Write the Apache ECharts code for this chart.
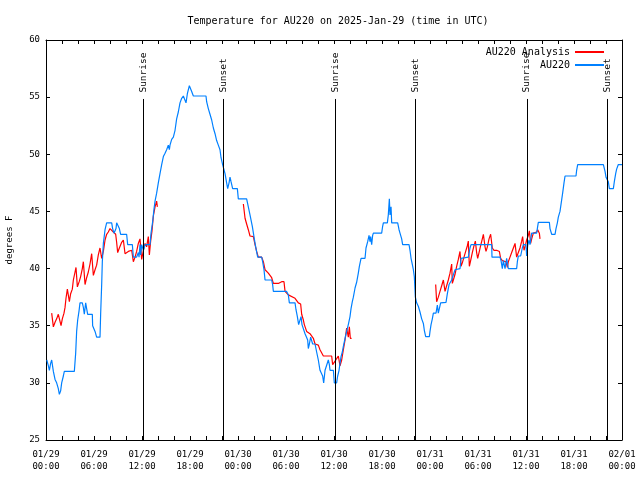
<!DOCTYPE html>
<html><head><meta charset="utf-8">
<script src="https://cdn.jsdelivr.net/npm/echarts@6/dist/echarts.min.js"></script>
<style>html,body{margin:0;padding:0;background:#fff}#c{width:640px;height:480px}</style>
</head><body><div id="c"></div>
<script>
// hours since 2025-01-29 00:00 UTC
const xTickLabels = ['01/29\n00:00','01/29\n06:00','01/29\n12:00','01/29\n18:00','01/30\n00:00','01/30\n06:00','01/30\n12:00','01/30\n18:00','01/31\n00:00','01/31\n06:00','01/31\n12:00','01/31\n18:00','02/01\n00:00'];
const sunTimes = [12.15, 22.17, 36.15, 46.17, 60.12, 70.18];
const sunLabels = ['Sunrise','Sunset','Sunrise','Sunset','Sunrise','Sunset'];

const obsTemp = [[0.1,32],[0.29,31.5],[0.42,31.1],[0.58,31.7],[0.71,32],[0.92,31],[1.13,30.3],[1.33,30],[1.54,29.5],[1.67,29],[1.83,29.3],[1.96,30],[2.17,30.6],[2.29,31],[3.54,31],[3.71,32.6],[3.83,34.5],[3.96,35.5],[4.13,36.3],[4.25,37],[4.54,37],[4.67,36.6],[4.79,36],[4.96,37],[5.08,36.5],[5.21,36],[5.79,36],[5.83,35],[6.04,35],[6.13,34.5],[6.33,34],[6.75,34],[6.83,36],[6.96,38.6],[7.04,40.6],[7.17,42.2],[7.38,43.4],[7.58,44],[8.21,44],[8.33,43.5],[8.5,43.1],[8.75,43.5],[8.83,44],[9.04,44],[9.17,43.5],[9.33,43],[10.08,43],[10.21,42.1],[10.79,42.1],[10.92,41],[11.33,41],[11.54,41.4],[11.63,41],[11.75,42.1],[11.83,41.2],[11.96,42.1],[12.17,41.6],[12.38,42.1],[13.0,42.1],[13.13,43.1],[13.33,44.1],[13.5,45.2],[13.63,45.9],[13.83,46.6],[14.04,47.5],[14.25,48.3],[14.46,49.1],[14.67,49.8],[14.88,50.1],[15.08,50.4],[15.29,50.8],[15.42,50.4],[15.5,50.8],[15.71,51.3],[15.92,51.5],[16.13,52.1],[16.33,53.1],[16.54,53.7],[16.75,54.5],[16.96,54.9],[17.17,55.1],[17.38,55.1],[17.5,54.5],[17.67,55.3],[17.79,55.3],[17.92,56],[18.08,56],[18.21,55.5],[18.42,55.1],[20.0,55.1],[20.08,54.6],[20.29,54],[20.5,53.5],[20.71,53],[20.92,52.3],[21.13,51.8],[21.33,51.2],[21.54,50.8],[21.75,50.4],[21.88,49.7],[22.08,49.1],[22.38,48.3],[22.58,47.5],[22.71,47],[22.88,47.5],[23.0,48],[23.13,47.6],[23.33,47],[23.92,47],[24.04,46.1],[25.08,46.1],[25.29,45.4],[25.5,44.7],[25.79,43.7],[26.04,42.6],[26.21,41.9],[26.46,41],[26.96,41],[27.08,40.6],[27.25,39.9],[27.38,39],[28.21,39],[28.33,38.6],[28.42,38],[30.08,38],[30.29,37.7],[30.42,37],[31.13,37],[31.25,36.4],[31.42,35.8],[31.58,35.1],[31.75,35.1],[31.88,35.8],[32.0,35.1],[32.17,35.1],[32.38,34.3],[32.58,34.3],[32.71,33.75],[32.79,33],[32.92,33.4],[33.08,34],[33.21,34],[33.33,33.4],[33.63,33.4],[33.83,32.7],[34.04,32],[34.25,31.1],[34.46,31.1],[34.58,30.6],[34.71,30],[34.88,31.1],[35.08,31.1],[35.29,32],[35.42,31.6],[35.5,31.1],[35.92,31.1],[36.04,30],[36.33,30],[36.46,30.6],[36.63,31.1],[36.75,31.7],[36.88,32.3],[37.04,32.7],[37.17,33.2],[37.38,33.9],[37.58,34.5],[37.79,35.1],[38.0,35.8],[38.13,36.5],[38.29,37.1],[38.42,37.5],[38.63,38.3],[38.83,38.8],[39.04,39.6],[39.17,40.2],[39.38,40.9],[39.88,40.9],[40.0,41.8],[40.21,42.35],[40.38,42.9],[40.5,42.35],[40.58,42.8],[40.71,42.1],[40.83,42.9],[40.92,43.1],[41.96,43.1],[42.08,43.7],[42.17,44],[42.67,44],[42.79,44.7],[42.92,46.1],[43.0,44.7],[43.13,45.4],[43.21,44],[43.96,44],[44.13,43.4],[44.25,43.1],[44.46,42.6],[44.58,42.1],[45.38,42.1],[45.5,41.6],[45.63,40.9],[45.75,40.5],[45.92,39.9],[46.04,39.3],[46.17,37.5],[46.33,37],[46.54,36.7],[46.75,36.2],[46.96,35.6],[47.17,35.2],[47.29,34.6],[47.46,34.05],[47.92,34.05],[48.0,34.5],[48.13,35.1],[48.29,35.6],[48.42,36.1],[48.75,36.1],[48.92,36.8],[49.04,36.1],[49.17,36.2],[49.33,37.0],[49.46,37.05],[50.0,37.05],[50.17,37.8],[50.38,38.6],[50.5,38.7],[50.71,39.0],[50.92,39.1],[51.13,39.9],[51.25,40.0],[51.75,40.0],[51.88,40.9],[51.96,41],[52.79,41],[53.0,41.8],[53.13,42.1],[55.71,42.1],[55.75,41],[56.75,41],[56.88,40.7],[57.04,40.0],[57.17,40.7],[57.38,40.0],[57.58,40.9],[57.79,40.0],[58.83,40.0],[58.92,40.6],[59.04,41.1],[59.33,41.1],[59.54,41.8],[59.67,42.1],[60.0,42.1],[60.08,41.1],[60.21,42.0],[60.38,42.5],[60.5,42.1],[60.71,43.1],[61.33,43.1],[61.54,44.05],[62.92,44.05],[63.0,43.5],[63.21,43],[63.63,43],[63.75,43.5],[63.92,44],[64.04,44.5],[64.25,45],[64.46,45],[64.58,46.6],[64.75,47.5],[64.88,48.1],[66.25,48.1],[66.33,48.6],[66.46,49.1],[69.67,49.1],[69.88,48.5],[70.0,48],[70.17,48],[70.29,47.6],[70.42,47],[70.92,47],[71.04,47.6],[71.21,48.3],[71.33,48.7],[71.54,49.1],[72.0,49.1]];

const analysisDay1 = [[0.71,36.1],[0.92,34.9],[1.13,35.3],[1.33,35.6],[1.54,36.0],[1.75,36.0],[1.88,35.0],[2.04,35.6],[2.25,36.1],[2.38,36.6],[2.5,37.4],[2.67,38.2],[2.92,37.1],[3.08,37.8],[3.29,38.2],[3.42,39.0],[3.63,39.7],[3.75,40.1],[3.92,38.4],[4.17,38.9],[4.33,39.3],[4.54,40.0],[4.67,40.6],[4.88,38.6],[5.08,39.2],[5.29,39.7],[5.5,40.4],[5.71,41.3],[5.92,39.4],[6.13,39.9],[6.33,40.3],[6.54,41.2],[6.75,41.8],[6.96,40.9],[7.17,41.5],[7.38,42.5],[7.58,43.0],[7.79,43.2],[8.0,43.5],[8.21,43.4],[8.42,43.2],[8.71,43.0],[8.83,42.3],[8.96,41.4],[9.17,41.8],[9.46,42.3],[9.67,42.5],[9.88,41.3],[10.29,41.5],[10.71,41.6],[10.92,40.6],[11.13,41.0],[11.33,41.5],[11.54,42.2],[11.75,42.6],[11.96,40.8],[12.17,41.6],[12.38,42.2],[12.58,41.9],[12.79,42.8],[12.92,41.2],[13.08,42.4],[13.25,43.3],[13.42,44.6],[13.63,45.4],[13.83,45.9],[13.92,45.4]];
const analysisDay2 = [[24.67,45.65],[24.88,44.4],[25.08,43.9],[25.29,43.4],[25.5,42.85],[25.92,42.8],[26.13,42.1],[26.33,41.5],[26.54,41.0],[26.96,41.0],[27.17,40.6],[27.38,39.9],[27.79,39.6],[28.21,39.2],[28.42,38.7],[28.63,38.6],[29.04,38.7],[29.46,38.85],[29.75,38.85],[29.88,38.0],[30.29,37.7],[30.5,37.6],[31.13,37.4],[31.54,37.0],[31.83,36.9],[31.96,36.0],[32.17,35.5],[32.29,35.1],[32.58,34.5],[33.0,34.3],[33.42,33.9],[33.63,33.4],[34.04,33.3],[34.25,32.9],[34.67,32.35],[35.71,32.35],[35.83,31.6],[36.13,31.9],[36.33,32.0],[36.54,32.35],[36.75,31.5],[36.96,32.0],[37.17,32.9],[37.38,33.75],[37.58,34.8],[37.79,34.0],[37.92,34.9],[38.04,33.9],[38.2,33.9]];
const analysisDay3 = [[48.71,38.6],[48.83,37.1],[49.04,37.5],[49.25,38.0],[49.46,38.5],[49.67,39.0],[49.88,38.0],[50.08,38.5],[50.29,39.0],[50.5,39.6],[50.71,40.4],[50.79,38.7],[50.92,39.0],[51.13,39.5],[51.33,40.2],[51.54,40.8],[51.75,41.5],[51.88,40.2],[52.04,40.5],[52.25,41.0],[52.46,41.5],[52.67,42.0],[52.79,42.4],[52.92,40.2],[53.08,40.7],[53.29,41.4],[53.5,42.0],[53.67,42.4],[53.83,41.4],[53.96,40.9],[54.13,41.4],[54.33,42.0],[54.54,42.6],[54.67,43.0],[54.88,41.9],[55.0,41.5],[55.17,41.9],[55.38,42.6],[55.58,43.0],[55.79,41.8],[56.0,41.6],[56.33,41.6],[56.67,41.5],[56.83,40.9],[57.04,40.7],[57.25,40.6],[57.5,40.6],[57.67,40.1],[57.79,40.6],[58.0,41.0],[58.21,41.4],[58.42,41.8],[58.63,42.2],[58.83,41.0],[59.04,41.4],[59.25,41.8],[59.46,42.4],[59.58,42.8],[59.75,41.6],[59.88,41.9],[60.08,42.5],[60.29,42.9],[60.42,43.3],[60.58,42.2],[60.71,42.6],[60.92,43.1],[61.33,43.2],[61.46,43.4],[61.67,43.1],[61.75,42.6]];

const analysisData = analysisDay1.concat([[14, null]], analysisDay2, [[40, null]], analysisDay3);

const FONT = 'DejaVu Sans Mono';
const chart = echarts.init(document.getElementById('c'), null, {renderer: 'canvas'});
const tickCommon = {show: true, inside: true, length: 4, lineStyle: {color: '#000', width: 1}};
const lineCommon = {show: true, onZero: false, lineStyle: {color: '#000', width: 1}};

chart.setOption({
  animation: false,
  backgroundColor: '#fff',
  title: {
    text: 'Temperature for AU220 on 2025-Jan-29 (time in UTC)',
    left: 333, top: 11, textAlign: 'center',
    textStyle: {fontFamily: FONT, fontSize: 10, fontWeight: 'normal', color: '#000'}
  },
  legend: {
    data: ['AU220 Analysis', 'AU220'],
    orient: 'vertical', right: 30, top: 42, align: 'right',
    itemWidth: 29, itemHeight: 10, itemGap: 3,
    itemStyle: {opacity: 0},
    textStyle: {fontFamily: FONT, fontSize: 10, color: '#000', lineHeight: 10}
  },
  grid: {left: 46, right: 18, top: 40, bottom: 40, containLabel: false, outerBoundsMode: 'none'},
  xAxis: [{
    type: 'value', min: 0, max: 72, interval: 2, position: 'bottom',
    axisLine: lineCommon, axisTick: tickCommon, splitLine: {show: false},
    axisLabel: {
      interval: 0, margin: 9, lineHeight: 12, fontFamily: FONT, fontSize: 9, color: '#000',
      formatter: v => (v % 6 === 0 ? xTickLabels[v / 6] : '')
    }
  }, {
    type: 'value', min: 0, max: 72, interval: 2, position: 'top',
    axisLine: lineCommon, axisTick: tickCommon, splitLine: {show: false}, axisLabel: {show: false}
  }],
  yAxis: [{
    type: 'value', min: 25, max: 60, interval: 5, position: 'left',
    name: 'degrees F', nameLocation: 'middle', nameGap: 32, nameRotate: 90,
    nameTextStyle: {fontFamily: FONT, fontSize: 9, color: '#000'},
    axisLine: lineCommon, axisTick: tickCommon, splitLine: {show: false},
    axisLabel: {margin: 6, fontFamily: FONT, fontSize: 9, color: '#000'}
  }, {
    type: 'value', min: 25, max: 60, interval: 5, position: 'right',
    axisLine: lineCommon, axisTick: tickCommon, splitLine: {show: false}, axisLabel: {show: false}
  }],
  series: [{
    name: 'AU220 Analysis', type: 'line', xAxisIndex: 0, yAxisIndex: 0,
    data: analysisData, symbol: 'none', connectNulls: false,
    lineStyle: {color: '#ff0000', width: 1.2}, itemStyle: {color: '#ff0000'}, z: 3
  }, {
    name: 'AU220', type: 'line', xAxisIndex: 0, yAxisIndex: 0,
    data: obsTemp, symbol: 'none',
    lineStyle: {color: '#0080ff', width: 1.2}, itemStyle: {color: '#0080ff'}, z: 4
  }, {
    name: 'sun', type: 'scatter', xAxisIndex: 0, yAxisIndex: 0,
    symbolSize: 1, itemStyle: {color: 'rgba(0,0,0,0)'}, silent: true, z: 5,
    data: sunTimes.map((t, i) => ({value: [t, 55.4], name: sunLabels[i]})),
    label: {
      show: true, position: 'inside', rotate: 90, align: 'left', verticalAlign: 'middle',
      formatter: p => p.name, fontFamily: FONT, fontSize: 9.5, color: '#000', opacity: 1
    },
    markLine: {
      silent: true, symbol: ['none', 'none'], label: {show: false},
      lineStyle: {color: '#000', width: 1, type: 'solid'},
      emphasis: {disabled: true},
      data: sunTimes.map(t => [{coord: [t, 54.84]}, {coord: [t, 25]}])
    }
  }]
});
</script></body></html>
